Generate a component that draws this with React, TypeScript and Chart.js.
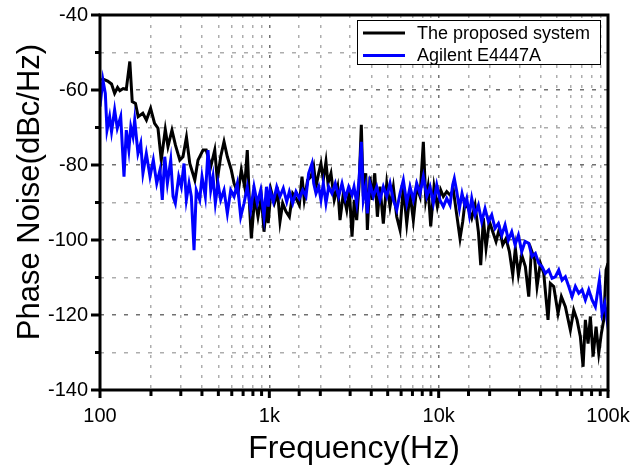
import React, { useEffect, useRef } from "react";
import { Chart, registerables } from "chart.js";

Chart.register(...registerables);

const FONT = "Arial, 'Liberation Sans', Helvetica, sans-serif";

const seriesNames = ["The proposed system", "Agilent E4447A"];
const seriesColors = ["#000000", "#0000ff"];
const xTitle = "Frequency(Hz)";
const yTitle = "Phase Noise(dBc/Hz)";
const xTickLabels: Record<string, string> = { "100": "100", "1000": "1k", "10000": "10k", "100000": "100k" };
const yMin = -140;
const yMax = -40;

const proposedFreq = [
  102, 104, 111, 117, 122, 127, 131, 137, 143, 150, 155, 162, 168, 179, 188, 199, 210, 220, 230, 243,
  252, 266, 279, 296, 309, 324, 339, 363, 379, 406, 424, 451, 476, 493, 516, 540, 565, 596, 619, 653,
  683, 715, 741, 766, 783, 820, 857, 897, 930, 962, 985,
  1023, 1071, 1120, 1156, 1199, 1254, 1313, 1374, 1437, 1504, 1559, 1608, 1684, 1762, 1828, 1886, 1956, 2018, 2083, 2160,
  2220, 2312, 2418, 2532, 2614, 2735, 2864, 2969, 3078, 3175, 3280, 3385, 3493, 3589, 3710, 3793, 3931, 4056, 4193, 4346,
  4504, 4712, 4935, 5160, 5398, 5654, 5912, 6185, 6478, 6773, 7086, 7421, 7760, 8118, 8390, 8652, 8975, 9388, 9819, 10284,
  10657, 11161, 11670, 12209, 12787, 13370, 13870, 14313, 14981, 15675, 16398, 17164, 17718, 18361, 19043, 19932, 20859, 21818, 22836, 23898,
  24996, 26162, 27379, 28369, 29572, 30942, 32503, 34033, 35268, 36931, 38098, 39854, 41735, 44237, 45660, 47816, 50683, 53038, 56008, 59937,
  62766, 65643, 68670, 71270, 73512, 76255, 78676, 81654, 85023, 88175, 91370, 94395, 97412, 100000,
];
const proposedDb = [
  -57.5, -57.1, -57.6, -58.4, -60.9, -59.3, -60.2, -59.6, -59.8, -52.4, -63.1, -63.6, -67.1, -66.2, -68, -64.9, -68.9, -70.2, -78.7, -70.5,
  -75.1, -70.7, -74.7, -78.7, -77.8, -72.6, -79.6, -84, -78.7, -76, -76, -80.4, -76, -84, -77.8, -73.8, -77.8, -81.3, -84.9, -87.6,
  -81.3, -85.8, -76, -92, -99.6, -88.4, -93.8, -88.4, -97.8, -91.1, -95.5,
  -86.7, -90.2, -87.6, -95.1, -90.2, -92.4, -93.8, -87.6, -88.9, -90.7, -83.1, -89.3, -84, -83.1, -80.4, -85.8, -82.2, -79.6, -84, -79.1,
  -84.9, -82.2, -89.3, -85.8, -94.7, -87.6, -92, -86.7, -99.1, -89.3, -94.7, -85.8, -69.3, -88.4, -82.2, -97.3, -83.1, -89.3, -82.2, -93.8,
  -85.8, -95.6, -84.9, -91.1, -85.8, -93.8, -97.3, -85.8, -95.6, -87.6, -94.7, -85.8, -88.4, -73.8, -89.3, -85.8, -96.4, -85.8, -91.1, -86.7,
  -88.4, -87.1, -88, -86.7, -93.3, -99.6, -95.1, -89.8, -91.6, -94.2, -90.7, -97.8, -106.7, -94.2, -102.2, -95.1, -97.8, -100.4, -96.9, -101.3,
  -99.6, -103.1, -109.3, -102.2, -109.3, -104, -107.1, -115.1, -102.7, -105.3, -112.4, -106.2, -108.9, -121.3, -111.6, -112.4, -119.6, -115.1, -117.8, -124,
  -118.7, -121.3, -125.8, -133.8, -121.3, -127.6, -120.4, -131.1, -123.1, -130.2, -124.9, -121.3, -108, -106.2,
];

const agilentFreq = [
  100, 104, 107.5, 110, 114, 117, 122, 126.5, 132.5, 138.6, 143, 148, 152, 156.6, 160.3, 167.6, 174, 179.3, 187.7, 197.4,
  206.5, 216.3, 226.1, 233.3, 241.2, 250, 261.6, 270, 278.5, 291.6, 302.2, 313.4, 323.6, 335.5, 346.2, 359.2, 370.3, 388, 400.4, 418.8,
  434.4, 450.7, 465, 479.9, 497.7, 516, 540, 565, 591.5, 619, 647, 677.6, 708.8, 741, 776, 812, 849, 889, 930, 962, 985,
  1009, 1056, 1106, 1156, 1209, 1267, 1313, 1374, 1437, 1504, 1574, 1646, 1707, 1786, 1828, 1886, 1956, 2018, 2083, 2160,
  2241, 2344, 2452, 2567, 2686, 2810, 2942, 3078, 3163, 3280, 3385, 3493, 3589, 3710, 3793, 3931, 4113, 4307, 4504, 4712,
  4935, 5160, 5398, 5654, 5912, 6185, 6478, 6773, 7086, 7421, 7760, 8118, 8503, 8890, 9301, 9741, 10186,
  10657, 11161, 11670, 12106, 12374, 12787, 13254, 13739, 14262, 14650, 15184, 15675, 16398, 17164, 17959, 18787, 19665, 20575, 21524, 22530,
  23572, 24660, 25812, 27007, 28253, 29572, 30942, 32370, 34033, 35600, 37239, 38992, 40787, 42664, 44672, 46729, 48880, 51181, 53538, 56008,
  58639, 61339, 64163, 67183, 70278, 73512, 76973, 80518, 84224, 88955, 92250, 95696, 98722, 100000,
];
const agilentDb = [
  -64.4, -57.3, -60.9, -70.7, -67.1, -71.1, -65.3, -70.2, -67.1, -83.1, -70.7, -76, -69.8, -72.4, -68, -76.9, -74.2, -82.2, -76.9, -83.1,
  -78.7, -84.9, -81.3, -89.3, -77.8, -84.9, -78.7, -88.4, -90.2, -83.1, -85.8, -79.6, -89.3, -84.9, -88.4, -102.7, -86.7, -89.3, -83.1, -88.4,
  -76, -86.7, -83.1, -90.2, -84.9, -89.3, -86.7, -92.9, -86.7, -88.4, -84.9, -93.8, -90.2, -85.8, -92, -85.8, -90.2, -86.7, -93.8, -85.8, -91.1,
  -86.7, -89.8, -85.8, -88.4, -86.2, -89.8, -87.1, -90.2, -87.1, -88.9, -86.7, -88.4, -82.2, -79.6, -84.9, -87.6, -85.8, -89.3, -84.9, -90.2,
  -85.8, -87.6, -84.9, -88.4, -84.9, -88.9, -85.8, -88, -85.8, -90.2, -84, -73.8, -89.3, -85.8, -92.9, -84.9, -88.4, -85.8, -89.3, -85.8,
  -88.4, -84.9, -89.3, -92, -87.6, -84, -90.2, -85.8, -89.3, -84.9, -87.6, -83.1, -88.4, -85.8, -90.2, -85.3, -89.4,
  -91.1, -88.9, -90.7, -85.3, -83.6, -87.1, -91.6, -87.6, -90.7, -88.9, -93.3, -88.9, -93.3, -90.7, -95.1, -91.6, -95.1, -93.3, -96.9, -95.6,
  -98.7, -96, -100, -97.8, -101.3, -98.7, -103.1, -100.4, -100.9, -104.4, -103.6, -106.2, -107.1, -108.9, -108, -110.2, -109.8, -108, -110.7, -109.8,
  -112.4, -115.1, -112.4, -114.2, -113.3, -116, -113.3, -116, -117.8, -110.7, -119.6, -116.9, -121.3, -118,
];

const isDecade = (v: number) => Math.abs(Math.log10(v) - Math.round(Math.log10(v))) < 1e-6;

const framePlugin = {
  id: "frameTicksLegend",
  afterDraw(chart: any) {
    const { ctx, chartArea } = chart;
    const { left, right, top, bottom } = chartArea;
    const xs = chart.scales.x;
    const ys = chart.scales.y;
    ctx.save();
    ctx.strokeStyle = "#000";
    ctx.lineWidth = 3;
    ctx.lineCap = "butt";
    // y ticks
    for (let v = yMin; v <= yMax; v += 10) {
      const y = ys.getPixelForValue(v);
      const len = v % 20 === 0 ? 9 : 5;
      ctx.beginPath();
      ctx.moveTo(left - len, y);
      ctx.lineTo(left, y);
      ctx.stroke();
    }
    // x ticks
    xs.ticks.forEach((t: any) => {
      const x = xs.getPixelForValue(t.value);
      const len = isDecade(t.value) ? 8 : 6;
      ctx.beginPath();
      ctx.moveTo(x, bottom);
      ctx.lineTo(x, bottom + len);
      ctx.stroke();
    });
    // frame
    ctx.strokeRect(left, top, right - left, bottom - top);

    // legend
    const lx = 357.5, ly = 20.5, lw = 243, lh = 44;
    ctx.fillStyle = "#fff";
    ctx.fillRect(lx, ly, lw, lh);
    ctx.lineWidth = 1;
    ctx.strokeStyle = "#000";
    ctx.strokeRect(lx, ly, lw, lh);
    const rows = [33, 55.5];
    chart.data.datasets.forEach((ds: any, i: number) => {
      ctx.strokeStyle = ds.borderColor;
      ctx.lineWidth = 3;
      ctx.beginPath();
      ctx.moveTo(363, rows[i]);
      ctx.lineTo(405, rows[i]);
      ctx.stroke();
      ctx.fillStyle = "#000";
      ctx.font = `18px ${FONT}`;
      ctx.textAlign = "left";
      ctx.textBaseline = "middle";
      ctx.fillText(ds.label, 417, rows[i] + 1);
    });

    // y title
    ctx.translate(30, 192);
    ctx.rotate(-Math.PI / 2);
    ctx.fillStyle = "#000";
    ctx.font = `31px ${FONT}`;
    ctx.textAlign = "center";
    ctx.textBaseline = "middle";
    ctx.fillText(yTitle, 0, 0);
    ctx.restore();
  },
};

export default function App() {
  const ref = useRef<HTMLCanvasElement>(null);
  useEffect(() => {
    document.body.style.margin = "0";
    const canvas = ref.current;
    if (!canvas) return;
    const chart = new Chart(canvas, {
      type: "line",
      data: {
        datasets: [
          {
            label: seriesNames[0],
            data: proposedFreq.map((f, i) => ({ x: f, y: proposedDb[i] })),
            borderColor: seriesColors[0],
            backgroundColor: seriesColors[0],
            borderWidth: 3,
            pointRadius: 0,
            tension: 0,
            order: 2,
          },
          {
            label: seriesNames[1],
            data: agilentFreq.map((f, i) => ({ x: f, y: agilentDb[i] })),
            borderColor: seriesColors[1],
            backgroundColor: seriesColors[1],
            borderWidth: 3,
            pointRadius: 0,
            tension: 0,
            order: 1,
          },
        ],
      },
      options: {
        responsive: false,
        animation: false,
        layout: { padding: { left: 0, right: 32, top: 15, bottom: 0 } },
        plugins: { legend: { display: false }, tooltip: { enabled: false } },
        scales: {
          x: {
            type: "logarithmic",
            min: 100,
            max: 100000,
            afterFit: (s: any) => {
              s.height = 78;
              s.paddingLeft = 0;
              s.paddingRight = 0;
            },
            ticks: {
              autoSkip: false,
              maxRotation: 0,
              minRotation: 0,
              padding: 14,
              color: "#000",
              font: { size: 20, family: FONT },
              callback: (v: any) => {
                const n = Number(v);
                if (!isDecade(n)) return "";
                return xTickLabels[String(Math.round(n))] ?? "";
              },
            },
            grid: {
              drawTicks: false,
              lineWidth: 1.5,
              color: (c: any) => (c.tick && isDecade(c.tick.value) ? "#707070" : "#adadad"),
            },
            border: { display: false, dash: [3, 7] },
            title: {
              display: true,
              text: xTitle,
              color: "#000",
              font: { size: 32, family: FONT },
              padding: 0,
            },
          },
          y: {
            type: "linear",
            min: yMin,
            max: yMax,
            afterFit: (s: any) => {
              s.width = 100;
              s.paddingTop = 0;
              s.paddingBottom = 0;
            },
            ticks: {
              stepSize: 10,
              padding: 12,
              color: "#000",
              font: { size: 20, family: FONT },
              callback: (v: any) => (Number(v) % 20 === 0 ? String(v) : ""),
            },
            grid: {
              drawTicks: false,
              lineWidth: 1.5,
              color: (c: any) => (c.tick && c.tick.value % 20 === 0 ? "#707070" : "#adadad"),
            },
            border: { display: false, dash: [4, 8] },
          },
        },
      },
      plugins: [framePlugin],
    });
    return () => chart.destroy();
  }, []);
  return (
    <div style={{ width: 640, height: 468, background: "#fff" }}>
      <canvas ref={ref} width={640} height={468} style={{ display: "block" }} />
    </div>
  );
}
